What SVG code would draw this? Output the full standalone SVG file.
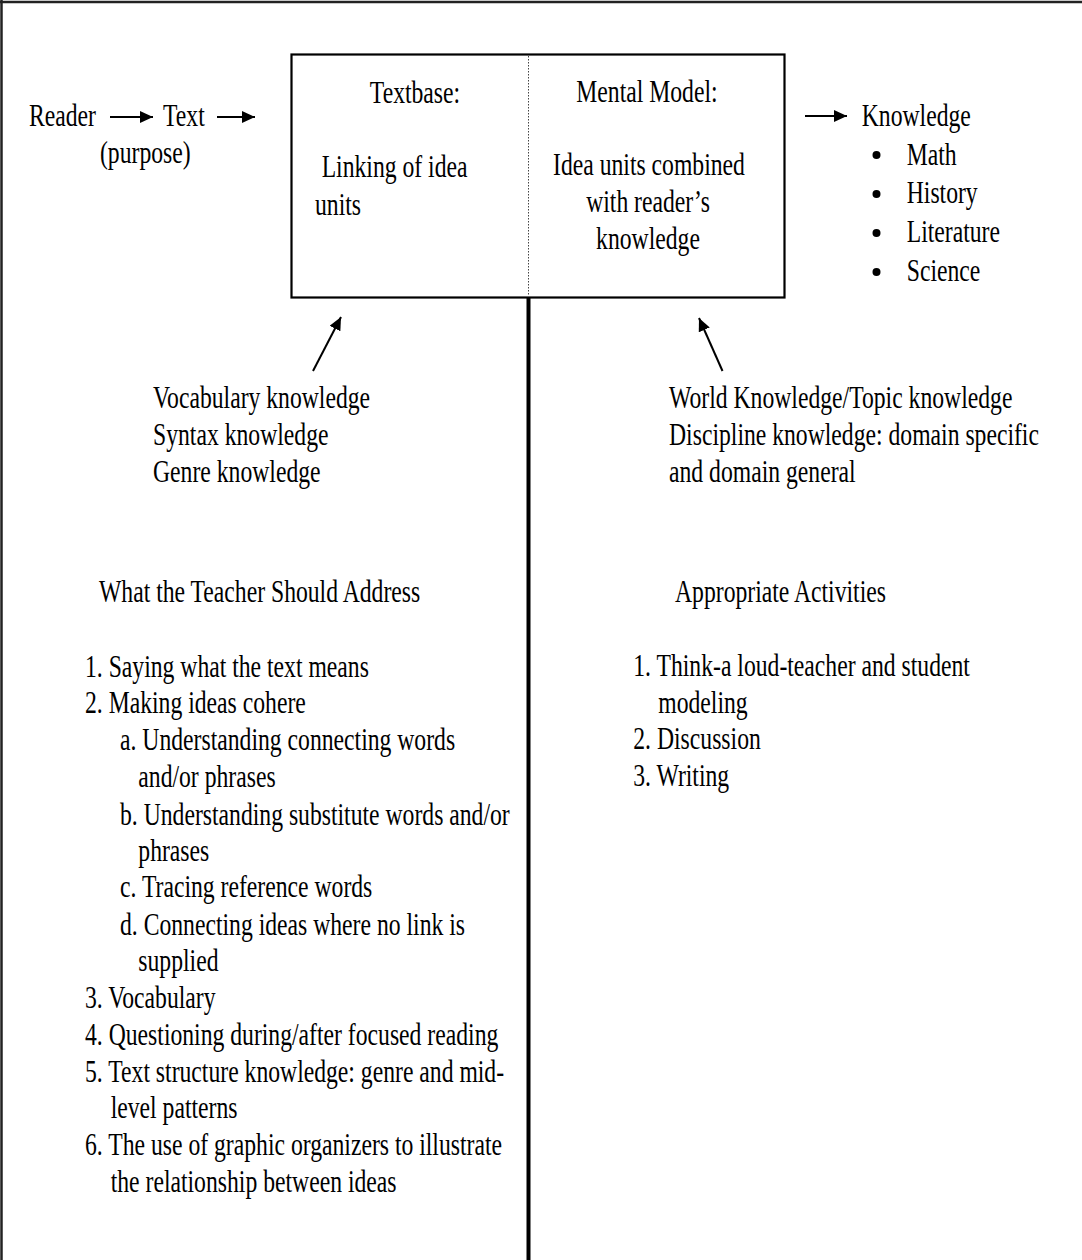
<svg xmlns="http://www.w3.org/2000/svg" width="1082" height="1260" viewBox="0 0 1082 1260">
<style>
text{font-family:"Liberation Serif","Times New Roman",serif;font-size:32px;fill:#000}
.c{text-anchor:middle}
.ln{stroke:#000;stroke-width:2;fill:none}
</style>
<defs>
<marker id="ah" markerUnits="userSpaceOnUse" markerWidth="15" markerHeight="13" refX="13" refY="6" orient="auto">
<path d="M0,0 L13,6 L0,12 Z" fill="#000"/>
</marker>
</defs>
<rect x="0" y="0" width="1082" height="1260" fill="#fff"/>
<g id="frame">
<line x1="0" y1="2" x2="1082" y2="2" stroke="#222" stroke-width="2.5"/>
<line x1="1.5" y1="0" x2="1.5" y2="1260" stroke="#222" stroke-width="2.5"/>
</g>
<g id="model-box">
<rect x="291.5" y="54.5" width="493" height="243" fill="none" stroke="#000" stroke-width="2.2"/>
<line x1="528.5" y1="56" x2="528.5" y2="296" stroke="#444" stroke-width="1" stroke-dasharray="1.5 1.5"/>
<g transform="scale(0.74 1)">
<text class="c" x="560.8" y="103">Textbase:</text>
<text x="434.7" y="177">Linking of idea</text>
<text x="425.7" y="215">units</text>
<text class="c" x="874.3" y="102">Mental Model:</text>
<text class="c" x="877" y="175">Idea units combined</text>
<text class="c" x="875.7" y="212">with reader’s</text>
<text class="c" x="875.7" y="249">knowledge</text>
</g>
</g>
<g id="reader"><text transform="scale(0.74 1)" x="39.2" y="126">Reader</text></g>
<g id="text-node"><g transform="scale(0.74 1)"><text x="220.3" y="126">Text</text><text x="135.1" y="163">(purpose)</text></g></g>
<g id="knowledge">
<g transform="scale(0.74 1)">
<text x="1164.5" y="126">Knowledge</text>
<text x="1225.3" y="165">Math</text>
<text x="1225.3" y="203">History</text>
<text x="1225.3" y="242">Literature</text>
<text x="1225.3" y="281">Science</text>
</g>
<circle cx="876.5" cy="155" r="4"/>
<circle cx="876.5" cy="194" r="4"/>
<circle cx="876.5" cy="233" r="4"/>
<circle cx="876.5" cy="272" r="4"/>
</g>
<g id="textbase-knowledge" transform="scale(0.74 1)">
<text x="206.8" y="408">Vocabulary knowledge</text>
<text x="206.8" y="445">Syntax knowledge</text>
<text x="206.8" y="482">Genre knowledge</text>
</g>
<g id="world-knowledge" transform="scale(0.74 1)">
<text x="904.1" y="408">World Knowledge/Topic knowledge</text>
<text x="904.1" y="445">Discipline knowledge: domain specific</text>
<text x="904.1" y="482">and domain general</text>
</g>
<g id="teacher-address" transform="scale(0.74 1)">
<text x="133.8" y="602">What the Teacher Should Address</text>
<text x="114.9" y="677">1. Saying what the text means</text>
<text x="114.9" y="713">2. Making ideas cohere</text>
<text x="162.2" y="750">a. Understanding connecting words</text>
<text x="186.9" y="787">and/or phrases</text>
<text x="162.2" y="825">b. Understanding substitute words and/or</text>
<text x="186.9" y="861">phrases</text>
<text x="162.2" y="897">c. Tracing reference words</text>
<text x="162.2" y="935">d. Connecting ideas where no link is</text>
<text x="186.9" y="971">supplied</text>
<text x="114.9" y="1008">3. Vocabulary</text>
<text x="114.9" y="1045">4. Questioning during/after focused reading</text>
<text x="114.9" y="1082">5. Text structure knowledge: genre and mid-</text>
<text x="149.6" y="1118">level patterns</text>
<text x="114.9" y="1155">6. The use of graphic organizers to illustrate</text>
<text x="149.6" y="1192">the relationship between ideas</text>
</g>
<g id="activities" transform="scale(0.74 1)">
<text x="912.2" y="602">Appropriate Activities</text>
<text x="855.8" y="676">1. Think-a loud-teacher and student</text>
<text x="889.6" y="713">modeling</text>
<text x="855.8" y="749">2. Discussion</text>
<text x="855.8" y="786">3. Writing</text>
</g>
<g id="connectors">
<line class="ln" x1="110" y1="117" x2="153" y2="117" marker-end="url(#ah)"/>
<line class="ln" x1="217" y1="117" x2="255" y2="117" marker-end="url(#ah)"/>
<line class="ln" x1="805" y1="116" x2="847" y2="116" marker-end="url(#ah)"/>
<line class="ln" x1="313" y1="371" x2="341" y2="317" marker-end="url(#ah)"/>
<line class="ln" x1="722.5" y1="371" x2="699" y2="318" marker-end="url(#ah)"/>
<line x1="528.5" y1="297" x2="528.5" y2="1260" stroke="#000" stroke-width="4"/>
</g>
</svg>
